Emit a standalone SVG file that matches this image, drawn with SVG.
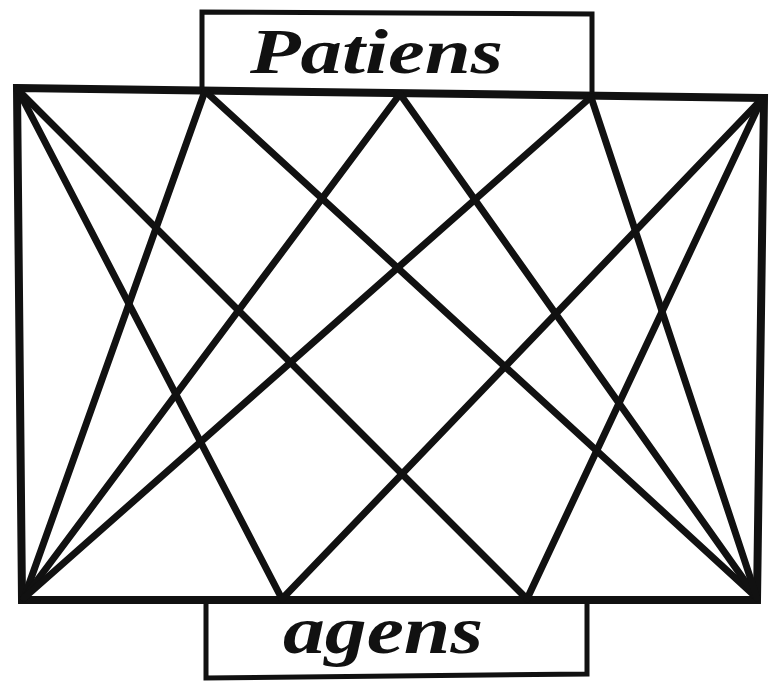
<svg xmlns="http://www.w3.org/2000/svg" width="769" height="686" viewBox="0 0 769 686">
<style>
.ln{stroke:#111;stroke-width:7;fill:none;stroke-linecap:round;stroke-linejoin:round}
.edge{stroke:#111;stroke-width:8;fill:none;stroke-linejoin:miter}
.box{stroke:#111;stroke-width:5;fill:none}
.lbl{font-family:"Liberation Serif","DejaVu Serif",serif;font-style:italic;font-weight:bold;fill:#111}
</style>
<rect width="769" height="686" fill="#fff"/>
<g id="patiens">
<path class="box" d="M202,90 L202,12 L592,14 L592,96"/>
<text class="lbl" x="250" y="73" font-size="64" textLength="253" lengthAdjust="spacingAndGlyphs">Patiens</text>
</g>
<g id="agens">
<path class="box" d="M206,600 L206,678 L587,674 L587,600"/>
<text class="lbl" x="283" y="653" font-size="68" textLength="200" lengthAdjust="spacingAndGlyphs">agens</text>
</g>
<g id="frame">
<path class="edge" d="M17,88 L764,98 L757,600 L22,600 Z"/>
</g>
<g id="connectors">
<line class="ln" x1="18" y1="90" x2="282" y2="599"/>
<line class="ln" x1="18" y1="90" x2="527" y2="599"/>
<line class="ln" x1="762" y1="99" x2="282" y2="599"/>
<line class="ln" x1="762" y1="99" x2="527" y2="599"/>
<line class="ln" x1="24" y1="598" x2="205" y2="91"/>
<line class="ln" x1="24" y1="598" x2="400" y2="94"/>
<line class="ln" x1="24" y1="598" x2="591" y2="97"/>
<line class="ln" x1="757" y1="598" x2="205" y2="91"/>
<line class="ln" x1="757" y1="598" x2="400" y2="94"/>
<line class="ln" x1="757" y1="598" x2="591" y2="97"/>
</g>
</svg>
